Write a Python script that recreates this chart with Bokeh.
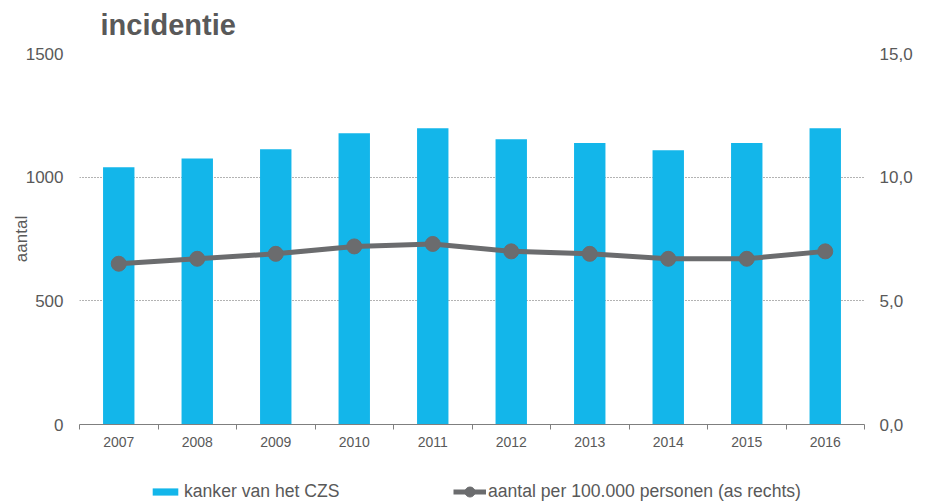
from bokeh.plotting import figure
from bokeh.layouts import column
from bokeh.models import (Range1d, LinearAxis, FixedTicker, CustomJSTickFormatter,
                          Legend, LegendItem, Label, Grid)
from bokeh.embed import file_html
from bokeh.resources import INLINE

years = [2007, 2008, 2009, 2010, 2011, 2012, 2013, 2014, 2015, 2016]
counts = [1040, 1075, 1113, 1178, 1198, 1153, 1138, 1109, 1138, 1198]
rates = [6.5, 6.7, 6.9, 7.2, 7.3, 7.0, 6.9, 6.7, 6.7, 7.0]
left_ticks = [0, 500, 1000, 1500]
right_ticks = [0, 5, 10, 15]
title_text = "incidentie"
bar_label = "kanker van het CZS"
line_label = "aantal per 100.000 personen (as rechts)"

FONT = "Liberation Sans"
TXT = "#595959"
BAR = "#13B6EA"
LINE = "#6B6C6E"


def strip(height):
    f = figure(width=925, height=height, output_backend="svg", toolbar_location=None,
               x_range=Range1d(0, 1), y_range=Range1d(0, 1),
               min_border_left=79, min_border_right=61, min_border_top=0,
               min_border_bottom=0, outline_line_color=None)
    f.xaxis.visible = False
    f.yaxis.visible = False
    f.xgrid.visible = False
    f.ygrid.visible = False
    return f


# title strip
r = strip(45)
r.add_layout(Label(x=21, y=21, x_units="screen", y_units="screen", text=title_text,
                   text_font=FONT, text_font_size="29px", text_font_style="bold",
                   text_color=TXT, text_baseline="alphabetic", text_align="left"))

p = figure(width=925, height=417, output_backend="svg", toolbar_location=None,
           x_range=Range1d(years[0] - 0.5, years[-1] + 0.5),
           y_range=Range1d(0, 1500),
           min_border_left=79, min_border_right=61, min_border_top=8,
           min_border_bottom=38, outline_line_color=None)
p.extra_y_ranges = {"right": Range1d(0, 15)}
p.xaxis.visible = False
p.yaxis.visible = False

# x axis
minor = [y + 0.5 for y in range(years[0] - 1, years[-1] + 1)]
xa = LinearAxis(ticker=FixedTicker(ticks=years, minor_ticks=minor))
xa.major_tick_line_color = None
xa.major_tick_out = 0
xa.major_tick_in = 0
xa.minor_tick_out = 5
xa.minor_tick_in = 0
xa.minor_tick_line_color = "#7F7F7F"
xa.axis_line_color = "#7F7F7F"
xa.major_label_standoff = 7
xa.major_label_text_font = FONT
xa.major_label_text_font_size = "14px"
xa.major_label_text_color = TXT
xa.major_label_overrides = {y: str(y) for y in years}
p.add_layout(xa, "below")

# left axis
ya = LinearAxis(ticker=FixedTicker(ticks=left_ticks), axis_label="aantal")
ya.axis_line_color = None
ya.major_tick_line_color = None
ya.major_tick_out = 0
ya.major_tick_in = 0
ya.minor_tick_line_color = None
ya.major_label_standoff = 16
ya.major_label_text_font = FONT
ya.major_label_text_font_size = "17px"
ya.major_label_text_color = TXT
ya.axis_label_standoff = -8
ya.axis_label_text_font = FONT
ya.axis_label_text_font_size = "17px"
ya.axis_label_text_font_style = "normal"
ya.axis_label_text_color = TXT
p.add_layout(ya, "left")

# right axis
ra = LinearAxis(y_range_name="right", ticker=FixedTicker(ticks=right_ticks),
                formatter=CustomJSTickFormatter(code="return tick.toFixed(1).replace('.', ',');"))
ra.axis_line_color = None
ra.major_tick_line_color = None
ra.major_tick_out = 0
ra.major_tick_in = 0
ra.minor_tick_line_color = None
ra.major_label_standoff = 15
ra.major_label_text_font = FONT
ra.major_label_text_font_size = "17px"
ra.major_label_text_color = TXT
p.add_layout(ra, "right")

p.xgrid.visible = False
p.ygrid.visible = False
g = Grid(dimension=1, ticker=FixedTicker(ticks=left_ticks[1:]),
         grid_line_color="#666666", grid_line_dash="1 2", grid_line_width=1)
p.add_layout(g)

bars = p.vbar(x=years, top=counts, width=0.4, fill_color=BAR, line_color=None)
ln = p.line(years, rates, y_range_name="right", line_color=LINE, line_width=5)
pts = p.scatter(years, rates, y_range_name="right", size=15, fill_color=LINE,
                line_color=LINE)

# legend strip: renderers reuse the same data but are hidden; only legend glyphs show
q = strip(40)
lbar = q.vbar(x=years, top=counts, width=0.4, fill_color=BAR, line_color=None,
              visible=False)
lln = q.line(x=years, y=rates, line_color=LINE, line_width=5, visible=False)
lpts = q.scatter(x=years, y=rates, size=15, fill_color=LINE, line_color=LINE,
                 visible=False)

leg1 = Legend(items=[LegendItem(label=bar_label, renderers=[lbar])],
              location=(70, 0), orientation="horizontal", padding=0, margin=0,
              glyph_width=32, glyph_height=9, label_standoff=3,
              label_text_font=FONT, label_text_font_size="17.6px",
              label_text_color=TXT, border_line_color=None,
              background_fill_alpha=0, inactive_fill_alpha=0)
leg2 = Legend(items=[LegendItem(label=line_label, renderers=[lln, lpts])],
              location=(374, -2), orientation="horizontal", padding=0, margin=0,
              glyph_width=33, glyph_height=25, label_standoff=2,
              label_text_font=FONT, label_text_font_size="17.6px",
              label_text_color=TXT, border_line_color=None,
              background_fill_alpha=0, inactive_fill_alpha=0)
q.add_layout(leg1, "center")
q.add_layout(leg2, "center")

layout = column(r, p, q, spacing=0)
open("out.html", "w").write(file_html(layout, INLINE))
